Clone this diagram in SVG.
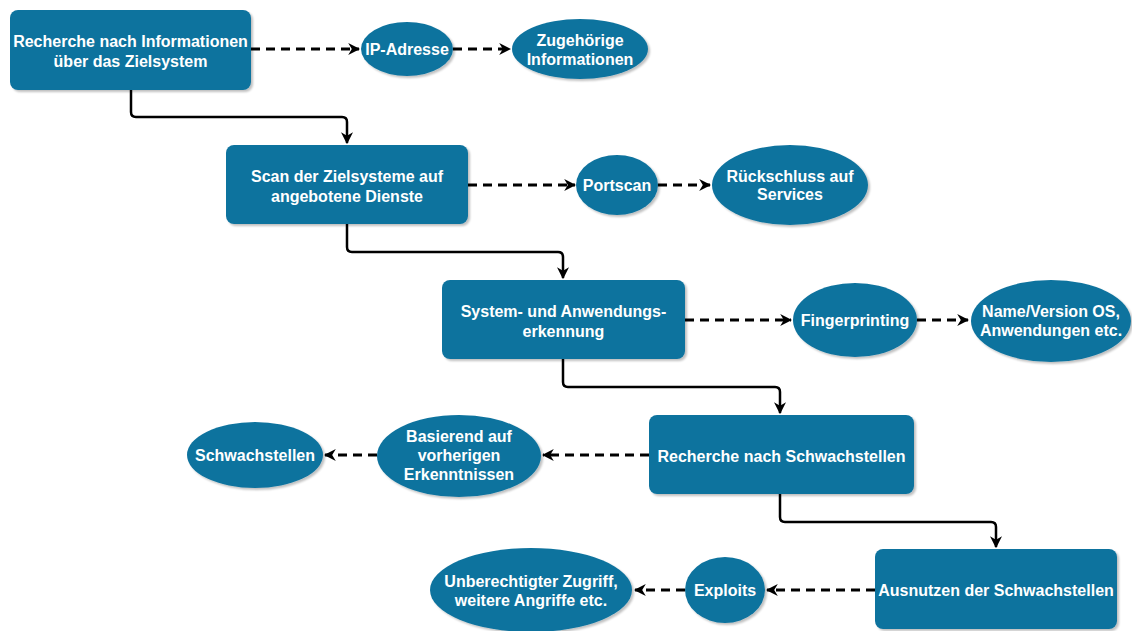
<svg xmlns="http://www.w3.org/2000/svg" width="1132" height="631" viewBox="0 0 1132 631">
  <style>
    .box { fill: #10739E; filter: url(#shadow); }
    .ell { fill: #10739E; filter: url(#shadow); }
    .lbl { font-family: "Liberation Sans", Arial, sans-serif; font-size: 16px; font-weight: bold; fill: #FFFFFF; text-anchor: middle; dominant-baseline: central; }
    .flow { fill: none; stroke: #000000; stroke-width: 2.5; stroke-linejoin: round; marker-end: url(#arrow); }
    .dash { fill: none; stroke: #000000; stroke-width: 3; stroke-dasharray: 9 6; marker-end: url(#arrow); }
  </style>
  <defs>
    <filter id="shadow" x="-10%" y="-10%" width="130%" height="130%">
      <feGaussianBlur in="SourceAlpha" stdDeviation="1.2"/>
      <feOffset dx="2" dy="2" result="b"/>
      <feComponentTransfer><feFuncA type="linear" slope="0.25"/></feComponentTransfer>
      <feMerge><feMergeNode/><feMergeNode in="SourceGraphic"/></feMerge>
    </filter>
    <marker id="arrow" markerUnits="userSpaceOnUse" viewBox="0 0 10 10" refX="9" refY="5" markerWidth="12" markerHeight="12" orient="auto">
      <path d="M0,0 L10,5 L0,10 L3,5 Z" fill="#000000"/>
    </marker>
  </defs>

  <!-- connectors -->
  <g id="connectors">
    <path class="flow" d="M131,90 V112 Q131,117 136,117 H342 Q347,117 347,122 V143"/>
    <path class="flow" d="M347,224 V247 Q347,252 352,252 H558 Q563,252 563,257 V278"/>
    <path class="flow" d="M563,359 V382 Q563,387 568,387 H775 Q780,387 780,392 V413"/>
    <path class="flow" d="M780,494 V517 Q780,522 785,522 H991 Q996,522 996,527 V547"/>

    <path class="dash" d="M251,49 H359"/>
    <path class="dash" d="M453,49 H510"/>
    <path class="dash" d="M468,185 H575"/>
    <path class="dash" d="M658,185 H710"/>
    <path class="dash" d="M685,320 H791"/>
    <path class="dash" d="M917,320 H968"/>
    <path class="dash" d="M649,455 H543"/>
    <path class="dash" d="M377,455 H325"/>
    <path class="dash" d="M875,590 H767"/>
    <path class="dash" d="M685,590 H635"/>
  </g>

  <!-- process steps -->
  <g id="step1">
    <rect class="box" x="10" y="10" width="241" height="80" rx="8"/>
    <text class="lbl" x="130.5" y="41">Recherche nach Informationen</text>
    <text class="lbl" x="130.5" y="61">über das Zielsystem</text>
  </g>
  <g id="step2">
    <rect class="box" x="226" y="145" width="242" height="79" rx="8"/>
    <text class="lbl" x="347" y="176">Scan der Zielsysteme auf</text>
    <text class="lbl" x="347" y="196">angebotene Dienste</text>
  </g>
  <g id="step3">
    <rect class="box" x="442" y="280" width="243" height="79" rx="8"/>
    <text class="lbl" x="563.5" y="311">System- und Anwendungs-</text>
    <text class="lbl" x="563.5" y="331">erkennung</text>
  </g>
  <g id="step4">
    <rect class="box" x="649" y="415" width="265" height="79" rx="8"/>
    <text class="lbl" x="781.5" y="456">Recherche nach Schwachstellen</text>
  </g>
  <g id="step5">
    <rect class="box" x="875" y="549" width="242" height="80" rx="8"/>
    <text class="lbl" x="996" y="590">Ausnutzen der Schwachstellen</text>
  </g>

  <!-- methods and results -->
  <g id="ip">
    <ellipse class="ell" cx="407" cy="49" rx="46" ry="27"/>
    <text class="lbl" x="407" y="49">IP-Adresse</text>
  </g>
  <g id="info">
    <ellipse class="ell" cx="580" cy="49" rx="68" ry="30"/>
    <text class="lbl" x="580" y="40">Zugehörige</text>
    <text class="lbl" x="580" y="59">Informationen</text>
  </g>
  <g id="portscan">
    <ellipse class="ell" cx="617" cy="185" rx="41" ry="30"/>
    <text class="lbl" x="617" y="185">Portscan</text>
  </g>
  <g id="services">
    <ellipse class="ell" cx="790" cy="185" rx="78" ry="40"/>
    <text class="lbl" x="790" y="176">Rückschluss auf</text>
    <text class="lbl" x="790" y="194">Services</text>
  </g>
  <g id="fingerprinting">
    <ellipse class="ell" cx="855" cy="320" rx="62" ry="37"/>
    <text class="lbl" x="855" y="320">Fingerprinting</text>
  </g>
  <g id="version">
    <ellipse class="ell" cx="1051" cy="321" rx="80" ry="41"/>
    <text class="lbl" x="1051" y="311">Name/Version OS,</text>
    <text class="lbl" x="1051" y="330">Anwendungen etc.</text>
  </g>
  <g id="basis">
    <ellipse class="ell" cx="459" cy="456" rx="82" ry="41"/>
    <text class="lbl" x="459" y="436">Basierend auf</text>
    <text class="lbl" x="459" y="455">vorherigen</text>
    <text class="lbl" x="459" y="474">Erkenntnissen</text>
  </g>
  <g id="schwachstellen">
    <ellipse class="ell" cx="255" cy="455" rx="68" ry="33"/>
    <text class="lbl" x="255" y="455">Schwachstellen</text>
  </g>
  <g id="exploits">
    <ellipse class="ell" cx="725" cy="590" rx="40" ry="33"/>
    <text class="lbl" x="725" y="590">Exploits</text>
  </g>
  <g id="zugriff">
    <ellipse class="ell" cx="531" cy="590" rx="101" ry="42"/>
    <text class="lbl" x="531" y="581">Unberechtigter Zugriff,</text>
    <text class="lbl" x="531" y="600">weitere Angriffe etc.</text>
  </g>
</svg>
